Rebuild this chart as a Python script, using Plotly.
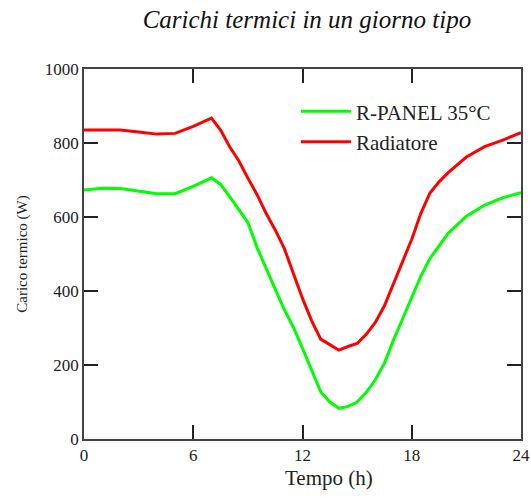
import plotly.graph_objects as go

tempo_h = [0, 1, 2, 3, 4, 5, 6, 7, 7.5, 8, 8.5, 9, 9.5, 10, 10.5, 11, 11.5, 12,
           12.5, 13, 13.5, 14, 14.5, 15, 15.5, 16, 16.5, 17, 17.5, 18, 18.5, 19,
           19.5, 20, 21, 22, 23, 24]

rpanel_35 = [673, 678, 677, 671, 663, 663, 683, 706, 688, 655, 620, 585, 518, 460,
             405, 350, 302, 245, 185, 128, 100, 83, 88, 100, 126, 160, 205, 268,
             325, 383, 440, 488, 523, 556, 602, 632, 652, 666]

radiatore = [835, 836, 835, 830, 824, 826, 845, 867, 835, 790, 752, 705, 661, 610,
             565, 515, 446, 380, 320, 270, 255, 240, 250, 258, 283, 315, 360, 420,
             482, 540, 610, 665, 695, 720, 762, 790, 808, 828]

x_ticks = [0, 6, 12, 18, 24]
y_ticks = [0, 200, 400, 600, 800, 1000]

serif = "Liberation Serif, Times New Roman, serif"

fig = go.Figure()
fig.add_trace(go.Scatter(x=tempo_h, y=rpanel_35, mode="lines", name="R-PANEL 35°C",
                         line=dict(color="#00ff00", width=3)))
fig.add_trace(go.Scatter(x=tempo_h, y=radiatore, mode="lines", name="Radiatore",
                         line=dict(color="#ff0000", width=3)))

axis_common = dict(showline=True, linecolor="#444", linewidth=1.5, mirror="ticks",
                   ticks="inside", ticklen=14, tickcolor="#222", tickwidth=1.5,
                   showgrid=False, zeroline=False, automargin=False,
                   tickfont=dict(family=serif, size=17, color="#222"))

fig.update_layout(
    width=531, height=500,
    margin=dict(l=84, r=10, t=69, b=61),
    paper_bgcolor="white", plot_bgcolor="white",
    title=dict(text="<i>Carichi termici in un giorno tipo</i>", x=0.578, xanchor="center",
               y=0.962, yanchor="middle",
               font=dict(family=serif, size=25, color="#111")),
    xaxis=dict(range=[0, 24], tickvals=x_ticks, ticktext=[str(v) for v in x_ticks],
               **axis_common),
    yaxis=dict(range=[0, 1000], tickvals=y_ticks, ticktext=[str(v) for v in y_ticks],
               title=dict(text="Carico termico (W)", font=dict(family=serif, size=15, color="#222"),
                          standoff=14),
               **axis_common),
    legend=dict(x=0.485, y=0.94, xanchor="left", yanchor="top",
                bgcolor="rgba(0,0,0,0)", borderwidth=0,
                font=dict(family=serif, size=21, color="#222"),
                itemwidth=50, tracegroupgap=0),
    showlegend=True,
    annotations=[dict(text="Tempo (h)", xref="paper", yref="paper",
                      x=(329 - 84) / 437, y=-0.105, xanchor="center", yanchor="middle",
                      showarrow=False, font=dict(family=serif, size=21, color="#222"))],
)

fig.write_html("out.html",
               config={"displayModeBar": False},
               post_script="document.body.style.margin='0px';document.body.style.overflow='hidden';")
